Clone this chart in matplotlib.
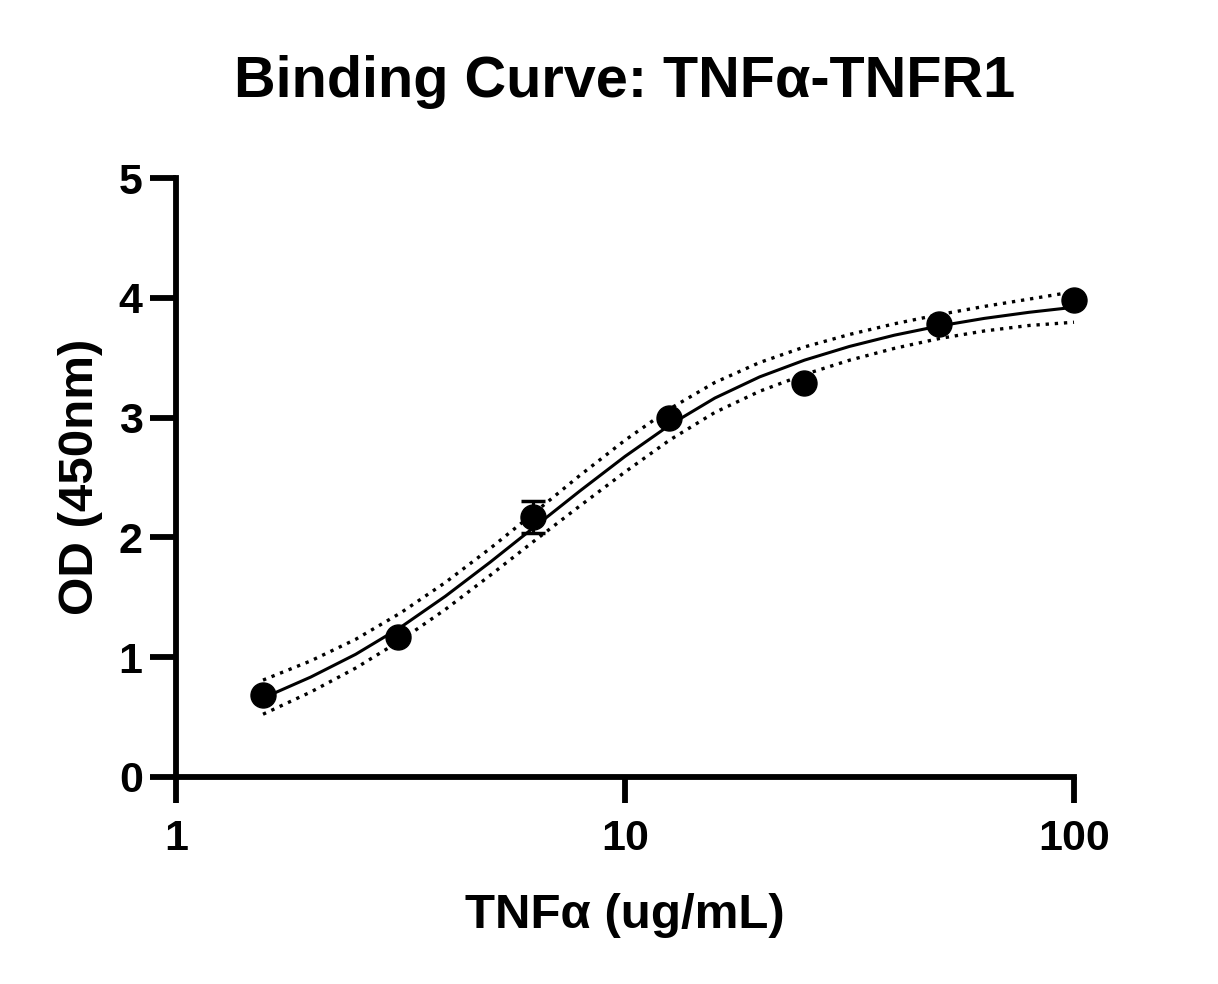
import matplotlib
matplotlib.use("Agg")
import matplotlib.pyplot as plt

# ---- data ----
conc = [1.5625, 3.125, 6.25, 12.5, 25, 50, 100]
od_mean = [0.685, 1.17, 2.17, 3.00, 3.29, 3.78, 3.98]
od_err = [0.0, 0.0, 0.13, 0.0, 0.0, 0.0, 0.0]

fit_x = [1.5625, 1.995, 2.512, 3.162, 3.981, 5.012, 6.310, 7.943, 10.0, 12.59,
         15.85, 19.95, 25.12, 31.62, 39.81, 50.12, 63.10, 79.43, 100]
fit_y = [0.659, 0.834, 1.024, 1.249, 1.509, 1.794, 2.092, 2.389, 2.676, 2.939,
         3.163, 3.340, 3.480, 3.594, 3.688, 3.765, 3.828, 3.879, 3.921]
band_upper = [0.809, 0.969, 1.149, 1.369, 1.624, 1.909, 2.212, 2.519, 2.811, 3.074,
              3.293, 3.460, 3.590, 3.694, 3.783, 3.860, 3.928, 3.989, 4.051]
band_lower = [0.524, 0.709, 0.909, 1.139, 1.399, 1.684, 1.977, 2.264, 2.546, 2.814,
              3.043, 3.220, 3.360, 3.479, 3.578, 3.660, 3.723, 3.769, 3.796]

x_ticks = [1, 10, 100]
x_ticklabels = ["1", "10", "100"]
y_ticks = [0, 1, 2, 3, 4, 5]

title = "Binding Curve: TNFα-TNFR1"
xlabel = "TNFα (ug/mL)"
ylabel = "OD (450nm)"

# ---- figure ----
plt.rcParams['font.family'] = ['Liberation Sans', 'DejaVu Sans']
plt.rcParams['font.weight'] = 'bold'

W, H = 1218, 984
fig = plt.figure(figsize=(W / 100, H / 100), dpi=100)
ax = fig.add_axes([176 / W, 1 - 777 / H, (1074 - 176) / W, (777 - 178) / H])

ax.plot(fit_x, fit_y, color='black', lw=2.2, zorder=3, clip_on=False,
        solid_joinstyle='round')
dot = (0, (1, 1.75))
ax.plot(fit_x, band_upper, color='black', lw=2.4, linestyle=dot, zorder=2, clip_on=False)
ax.plot(fit_x, band_lower, color='black', lw=2.4, linestyle=dot, zorder=2, clip_on=False)
ax.errorbar(conc, od_mean, yerr=od_err, fmt='o', color='black', markersize=18,
            ecolor='black', elinewidth=2.3, capsize=8.5, capthick=2.5, zorder=4,
            clip_on=False)

ax.set_xscale('log')
ax.set_xlim(1, 100)
ax.set_ylim(0, 5)
ax.set_xticks(x_ticks)
ax.set_xticklabels(x_ticklabels)
ax.xaxis.set_minor_locator(matplotlib.ticker.NullLocator())
ax.set_yticks(y_ticks)

for s in ['top', 'right']:
    ax.spines[s].set_visible(False)
for s in ['left', 'bottom']:
    ax.spines[s].set_linewidth(4.2)
    ax.spines[s].set_capstyle('projecting')

ax.tick_params(axis='both', which='major', length=18.5, width=4.2, direction='out',
               labelsize=31, colors='black')
ax.tick_params(axis='y', pad=5.5)
ax.tick_params(axis='x', pad=12)
for lbl in ax.get_xticklabels() + ax.get_yticklabels():
    lbl.set_fontweight('bold')

fig.text(625 / W, 1 - 97 / H, title, ha='center', va='baseline',
         fontsize=41.5, fontweight='bold')
fig.text(625 / W, 1 - 928 / H, xlabel, ha='center', va='baseline',
         fontsize=35.5, fontweight='bold')
fig.text(93 / W, 0.515, ylabel, ha='center', va='baseline', rotation=90,
         rotation_mode='anchor', fontsize=35.5, fontweight='bold')

fig.savefig('out.png', dpi=100, facecolor='white')
